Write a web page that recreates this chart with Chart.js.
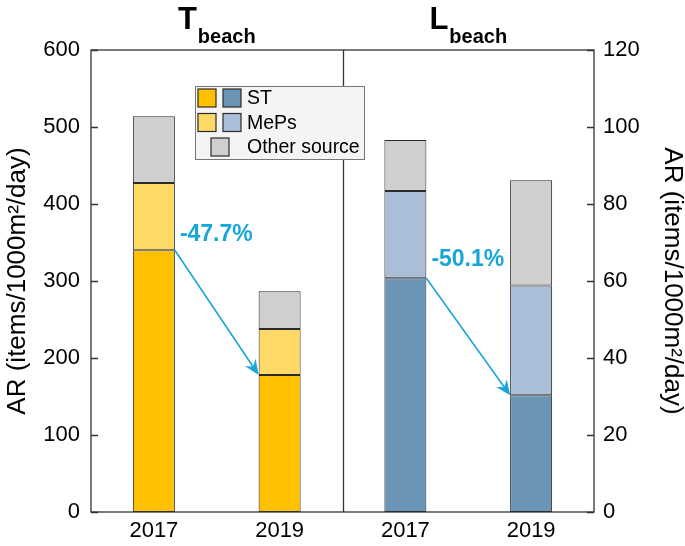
<!DOCTYPE html>
<html>
<head>
<meta charset="utf-8">
<script src="https://cdn.jsdelivr.net/npm/chart.js@4.4.1/dist/chart.umd.min.js"></script>
<style>
  html, body { margin: 0; padding: 0; background: #fff; }
  #wrap { width: 685px; height: 546px; }
</style>
</head>
<body>
<div id="wrap"><canvas id="chart" width="685" height="546"></canvas></div>
<script>
// -----------------------------
// DATA
// -----------------------------
const years = ["2017", "2019", "2017", "2019"];
const beaches = ["T", "L"];

// T beach, left axis
const tST = [340, 178, null, null];
const tMePs = [87.4, 59.8, null, null];
const tOther = [86.6, 49, null, null];

// L beach, right axis
const lST = [null, null, 60.7, 30.3];
const lMePs = [null, null, 22.7, 28.5];
const lOther = [null, null, 13.2, 27.4];

const changes = ["-47.7%", "-50.1%"];
const legendLabels = ["ST", "MePs", "Other source"];

const FONT = "'Liberation Sans', Arial, Helvetica, sans-serif";
const COLORS = {
    tST: "#FFC000",
    tMePs: "#FFD966",
    lST: "#6A95B6",
    lMePs: "#AABFD7",
    other: "#CFCFCF",
    arrow: "#18A6D7",
    edge: "#2a2a2a",
    axis: "#333333"
};

function barSet(label, data, color, axis) {
    return {
        label,
        data,
        backgroundColor: color,
        borderColor: COLORS.edge,
        borderWidth: 1,
        borderSkipped: false,
        yAxisID: axis,
        stack: "all",
        barPercentage: 1,
        categoryPercentage: 0.334
    };
}

// -----------------------------
// EXTRA DRAWING (frame, ticks, arrows, titles, legend)
// -----------------------------
const decorations = {
    id: "decorations",
    afterDatasetsDraw(chart) {
        const { ctx, chartArea: a, scales } = chart;
        ctx.save();

        // frame + divider
        ctx.strokeStyle = COLORS.axis;
        ctx.lineWidth = 1.3;
        ctx.strokeRect(a.left, a.top, a.right - a.left, a.bottom - a.top);
        const xMid = (scales.x.getPixelForValue(1) + scales.x.getPixelForValue(2)) / 2;
        ctx.beginPath();
        ctx.moveTo(Math.round(xMid) + 0.5, a.top);
        ctx.lineTo(Math.round(xMid) + 0.5, a.bottom);
        ctx.stroke();

        // inward ticks
        ctx.beginPath();
        scales.y.ticks.forEach(t => {
            const py = Math.round(scales.y.getPixelForValue(t.value)) + 0.5;
            ctx.moveTo(a.left, py);
            ctx.lineTo(a.left + 7, py);
        });
        scales.y1.ticks.forEach(t => {
            const py = Math.round(scales.y1.getPixelForValue(t.value)) + 0.5;
            ctx.moveTo(a.right - 7, py);
            ctx.lineTo(a.right, py);
        });
        ctx.stroke();

        // arrows between ST tops
        const pairs = [[0, 0, 1, -9], [3, 2, 3, -12]];
        pairs.forEach(([ds, i0, i1, dy], k) => {
            const meta = chart.getDatasetMeta(ds);
            const b0 = meta.data[i0], b1 = meta.data[i1];
            const x0 = b0.x + b0.width / 2, y0 = b0.y;
            const x1 = b1.x - b1.width / 2, y1 = b1.y;
            drawArrow(ctx, x0, y0, x1, y1);
            ctx.fillStyle = COLORS.arrow;
            ctx.font = "bold 23px " + FONT;
            ctx.textAlign = "left";
            ctx.textBaseline = "alphabetic";
            ctx.fillText(changes[k], x0 + 5, y0 + dy);
        });

        // panel titles
        const halves = [
            (a.left + xMid) / 2,
            (xMid + a.right) / 2
        ];
        beaches.forEach((b, k) => {
            ctx.fillStyle = "#000";
            ctx.font = "bold 31px " + FONT;
            const wBig = ctx.measureText(b).width;
            ctx.font = "bold 20px " + FONT;
            const wSub = ctx.measureText("beach").width;
            const start = halves[k] - (wBig + wSub + 1) / 2;
            ctx.textAlign = "left";
            ctx.textBaseline = "alphabetic";
            ctx.font = "bold 31px " + FONT;
            ctx.fillText(b, start, 29);
            ctx.font = "bold 20px " + FONT;
            ctx.fillText("beach", start + wBig + 1, 43);
        });

        // legend box
        const lx = 195, ly = 86;
        ctx.fillStyle = "#F4F4F4";
        ctx.strokeStyle = "#777";
        ctx.lineWidth = 1;
        ctx.fillRect(lx, ly, 169, 73);
        ctx.strokeRect(lx + 0.5, ly + 0.5, 169, 73);

        const rows = [
            [COLORS.tST, COLORS.lST],
            [COLORS.tMePs, COLORS.lMePs],
            [null, COLORS.other]
        ];
        rows.forEach((r, i) => {
            const sy = ly + 3 + i * 24.5;
            const swatch = (x, c) => {
                ctx.fillStyle = c;
                ctx.fillRect(x, sy, 18, 18);
                ctx.strokeStyle = COLORS.edge;
                ctx.lineWidth = 1.2;
                ctx.strokeRect(x, sy, 18, 18);
            };
            if (r[0]) {
                swatch(lx + 3, r[0]);
                swatch(lx + 28, r[1]);
            } else {
                swatch(lx + 16, r[1]);
            }
            ctx.fillStyle = "#000";
            ctx.font = "19.5px " + FONT;
            ctx.textAlign = "left";
            ctx.textBaseline = "middle";
            ctx.fillText(legendLabels[i], lx + 52, sy + 10);
        });

        ctx.restore();
    }
};

function drawArrow(ctx, x0, y0, x1, y1) {
    const ang = Math.atan2(y1 - y0, x1 - x0);
    const len = 15, half = 6.5;
    ctx.strokeStyle = COLORS.arrow;
    ctx.fillStyle = COLORS.arrow;
    ctx.lineWidth = 1.6;
    ctx.beginPath();
    ctx.moveTo(x0, y0);
    ctx.lineTo(x1 - Math.cos(ang) * 8, y1 - Math.sin(ang) * 8);
    ctx.stroke();
    ctx.save();
    ctx.translate(x1, y1);
    ctx.rotate(ang);
    ctx.beginPath();
    ctx.moveTo(0, 0);
    ctx.lineTo(-len, -half);
    ctx.lineTo(-len + 5, 0);
    ctx.lineTo(-len, half);
    ctx.closePath();
    ctx.fill();
    ctx.restore();
}

// -----------------------------
// CHART
// -----------------------------
new Chart(document.getElementById("chart").getContext("2d"), {
    type: "bar",
    data: {
        labels: years,
        datasets: [
            barSet("ST", tST, COLORS.tST, "y"),
            barSet("MePs", tMePs, COLORS.tMePs, "y"),
            barSet("Other source", tOther, COLORS.other, "y"),
            barSet("ST", lST, COLORS.lST, "y1"),
            barSet("MePs", lMePs, COLORS.lMePs, "y1"),
            barSet("Other source", lOther, COLORS.other, "y1")
        ]
    },
    options: {
        responsive: false,
        animation: false,
        devicePixelRatio: 1,
        layout: { padding: { top: 50, left: 0, right: 0, bottom: 0 } },
        plugins: {
            legend: { display: false },
            tooltip: { enabled: false }
        },
        scales: {
            x: {
                stacked: true,
                grid: { display: false, drawTicks: false },
                border: { display: false },
                ticks: { color: "#000", font: { family: FONT, size: 22 }, padding: 6 },
                afterFit(s) { s.height = 34; }
            },
            y: {
                position: "left",
                stacked: true,
                min: 0,
                max: 600,
                grid: { display: false, drawTicks: false },
                border: { display: false },
                ticks: { stepSize: 100, color: "#000", font: { family: FONT, size: 22 }, padding: 11 },
                title: {
                    display: true,
                    text: "AR (items/1000m²/day)",
                    color: "#000",
                    font: { family: FONT, size: 26, lineHeight: 1 },
                    padding: { top: 4.5, bottom: 0 }
                },
                afterFit(s) { s.width = 91; }
            },
            y1: {
                position: "right",
                stacked: true,
                min: 0,
                max: 120,
                grid: { display: false, drawTicks: false },
                border: { display: false },
                ticks: { stepSize: 20, color: "#000", font: { family: FONT, size: 22 }, padding: 9 },
                title: {
                    display: true,
                    text: "AR (items/1000m²/day)",
                    color: "#000",
                    font: { family: FONT, size: 26, lineHeight: 1 },
                    padding: { top: 0, bottom: 0 }
                },
                afterFit(s) { s.width = 91; }
            }
        }
    },
    plugins: [decorations]
});
</script>
</body>
</html>
